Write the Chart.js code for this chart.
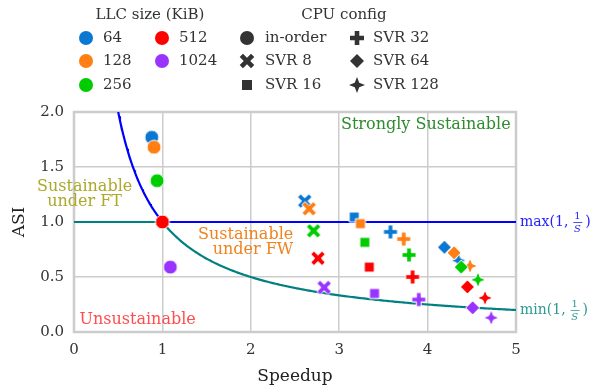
<!DOCTYPE html>
<html lang="en">
<head>
<meta charset="UTF-8">
<title>ASI vs Speedup</title>
<script src="https://cdn.jsdelivr.net/npm/chart.js"></script>
<style>
  body { margin: 0; background: #fff; }
  #wrap { width: 596px; height: 390px; }
</style>
</head>
<body>
<div id="wrap"><canvas id="asiChart" width="596" height="390"></canvas></div>
<script>
// LLC sizes (KiB) and CPU configs
const llcSizes = ['64', '128', '256', '512', '1024'];
const cpuConfigs = ['in-order', 'SVR 8', 'SVR 16', 'SVR 32', 'SVR 64', 'SVR 128'];

// speedup / ASI per CPU config, one value per LLC size (64 .. 1024)
const speedupInOrder = [0.88, 0.905, 0.94, 1.00, 1.09];
const asiInOrder     = [1.77, 1.68, 1.375, 1.00, 0.59];
const speedupSvr8    = [2.61, 2.66, 2.71, 2.76, 2.83];
const asiSvr8        = [1.19, 1.12, 0.92, 0.67, 0.405];
const speedupSvr16   = [3.17, 3.24, 3.29, 3.34, 3.40];
const asiSvr16       = [1.045, 0.985, 0.815, 0.59, 0.35];
const speedupSvr32   = [3.58, 3.73, 3.79, 3.83, 3.90];
const asiSvr32       = [0.91, 0.845, 0.70, 0.50, 0.295];
const speedupSvr64   = [4.19, 4.30, 4.38, 4.45, 4.51];
const asiSvr64       = [0.77, 0.72, 0.59, 0.41, 0.22];
const speedupSvr128  = [4.35, 4.48, 4.57, 4.65, 4.72];
const asiSvr128      = [0.65, 0.60, 0.475, 0.31, 0.13];

const xTicks = [0, 1, 2, 3, 4, 5];
const yTicks = [0.0, 0.5, 1.0, 1.5, 2.0];

const llcColors = ['#0a78d2', '#ff7f14', '#00cc00', '#ff0000', '#9933ff'];
const cpuShapes = ['circle', 'x', 'square', 'plus', 'diamond', 'star'];
const FONT = '"DejaVu Serif", serif';

// draw a marker shape centered on (0,0)
function shapePath(ctx, shape) {
  ctx.beginPath();
  if (shape === 'circle') {
    ctx.arc(0, 0, 7, 0, Math.PI * 2);
  } else if (shape === 'square') {
    ctx.rect(-5, -5, 10, 10);
  } else if (shape === 'diamond') {
    ctx.moveTo(0, -7); ctx.lineTo(7, 0); ctx.lineTo(0, 7); ctx.lineTo(-7, 0);
  } else if (shape === 'plus' || shape === 'x') {
    const e = shape === 'x' ? 8 : 7, t = 2.3;
    const pts = [[-t,-e],[t,-e],[t,-t],[e,-t],[e,t],[t,t],[t,e],[-t,e],[-t,t],[-e,t],[-e,-t],[-t,-t]];
    const a = shape === 'x' ? Math.PI / 4 : 0;
    pts.forEach((p, i) => {
      const x = p[0] * Math.cos(a) - p[1] * Math.sin(a);
      const y = p[0] * Math.sin(a) + p[1] * Math.cos(a);
      i ? ctx.lineTo(x, y) : ctx.moveTo(x, y);
    });
  } else if (shape === 'star') {
    for (let k = 0; k < 8; k++) {
      const ang = k * Math.PI / 4 - Math.PI / 2;
      const r = k % 2 ? 3.2 : 8;
      const x = r * Math.cos(ang), y = r * Math.sin(ang);
      k ? ctx.lineTo(x, y) : ctx.moveTo(x, y);
    }
  }
  ctx.closePath();
}

function drawMarker(ctx, shape, color, x, y, edge) {
  ctx.save();
  ctx.translate(x, y);
  shapePath(ctx, shape);
  ctx.fillStyle = color;
  ctx.fill();
  if (edge) {
    ctx.strokeStyle = '#ffffff';
    ctx.lineWidth = 1;
    ctx.stroke();
  }
  ctx.restore();
}

function makeMarker(shape, color) {
  const c = document.createElement('canvas');
  c.width = 22; c.height = 22;
  drawMarker(c.getContext('2d'), shape, color, 11, 11, true);
  return c;
}

const speedups = [speedupInOrder, speedupSvr8, speedupSvr16, speedupSvr32, speedupSvr64, speedupSvr128];
const asis = [asiInOrder, asiSvr8, asiSvr16, asiSvr32, asiSvr64, asiSvr128];

const pointSets = cpuConfigs.map((name, i) => ({
  type: 'scatter',
  label: name,
  data: speedups[i].map((s, j) => ({ x: s, y: asis[i][j] })),
  pointStyle: llcColors.map(col => makeMarker(cpuShapes[i], col)),
  pointRadius: 7,
  order: 1
}));

// reference curves max(1, 1/S) and min(1, 1/S)
const maxCurve = [];
for (let s = 0.5; s <= 1.0001; s += 0.01) maxCurve.push({ x: s, y: 1 / s });
maxCurve.push({ x: 5, y: 1 });
const minCurve = [{ x: 0, y: 1 }];
for (let s = 1; s <= 5.0001; s += 0.02) minCurve.push({ x: s, y: 1 / s });

const curveSets = [
  { type: 'scatter', data: maxCurve, showLine: true, borderColor: '#0000ff', borderWidth: 2.2, pointRadius: 0, order: 5 },
  { type: 'scatter', data: minCurve, showLine: true, borderColor: '#008080', borderWidth: 2.2, pointRadius: 0, order: 6 }
];

// frame round the plot area, region labels
const framePlugin = {
  id: 'frame',
  beforeDatasetsDraw(chart) {
    const { ctx, chartArea: a } = chart;
    ctx.save();
    ctx.strokeStyle = '#cccccc';
    ctx.lineWidth = 2.5;
    ctx.strokeRect(a.left, a.top, a.right - a.left, a.bottom - a.top);

    const xs = chart.scales.x, ys = chart.scales.y;
    ctx.font = '16px ' + FONT;
    ctx.textAlign = 'center';
    ctx.textBaseline = 'middle';
    ctx.fillStyle = '#2e8b2e';
    ctx.fillText('Strongly Sustainable', xs.getPixelForValue(3.98), ys.getPixelForValue(1.88));
    ctx.fillStyle = '#aca92c';
    ctx.fillText('Sustainable', xs.getPixelForValue(0.12), ys.getPixelForValue(1.32));
    ctx.fillText('under FT', xs.getPixelForValue(0.12), ys.getPixelForValue(1.185));
    ctx.fillStyle = '#f0821e';
    ctx.textAlign = 'right';
    ctx.fillText('Sustainable', xs.getPixelForValue(2.48), ys.getPixelForValue(0.885));
    ctx.fillText('under FW', xs.getPixelForValue(2.48), ys.getPixelForValue(0.75));
    ctx.textAlign = 'center';
    ctx.fillStyle = '#ff4d4d';
    ctx.fillText('Unsustainable', xs.getPixelForValue(0.72), ys.getPixelForValue(0.11));
    ctx.restore();
  },
  afterDatasetsDraw(chart) {
    const { ctx, chartArea: a } = chart;
    const ys = chart.scales.y;
    const frac = (fn, yv, color) => {
      let x = a.right + 4;
      const y = ys.getPixelForValue(yv);
      ctx.fillStyle = color;
      ctx.strokeStyle = color;
      ctx.textBaseline = 'middle';
      ctx.textAlign = 'left';
      ctx.font = '14px ' + FONT;
      const t = fn + '(1,';
      ctx.fillText(t, x, y);
      x += ctx.measureText(t).width + 5;
      ctx.textAlign = 'center';
      ctx.font = '10px ' + FONT;
      ctx.fillText('1', x + 4, y - 6);
      ctx.font = 'italic 10px ' + FONT;
      ctx.fillText('S', x + 4, y + 7);
      ctx.lineWidth = 0.8;
      ctx.beginPath();
      ctx.moveTo(x, y + 0.5); ctx.lineTo(x + 9, y + 0.5);
      ctx.stroke();
      ctx.textAlign = 'left';
      ctx.font = '14px ' + FONT;
      ctx.fillText(')', x + 12, y);
    };
    ctx.save();
    frac('max', 1.0, '#2222ff');
    frac('min', 0.2, '#2a9a92');
    ctx.restore();
  }
};

// two-part legend at the top
const legendPlugin = {
  id: 'twoLegends',
  afterDraw(chart) {
    const ctx = chart.ctx;
    ctx.save();
    ctx.fillStyle = '#333';
    ctx.textBaseline = 'middle';
    ctx.textAlign = 'center';
    ctx.font = '15px ' + FONT;
    ctx.fillText('LLC size (KiB)', 150, 15);
    ctx.fillText('CPU config', 344, 15);
    const rows = [38, 61, 85];
    ctx.textAlign = 'left';
    llcSizes.forEach((lab, i) => {
      const col = Math.floor(i / 3), row = i % 3;
      drawMarker(ctx, 'circle', llcColors[i], [86, 162][col], rows[row], false);
      ctx.fillStyle = '#333';
      ctx.fillText(lab, [103, 179][col], rows[row]);
    });
    cpuConfigs.forEach((lab, i) => {
      const col = Math.floor(i / 3), row = i % 3;
      drawMarker(ctx, cpuShapes[i], '#333', [247, 357][col], rows[row], false);
      ctx.fillStyle = '#333';
      ctx.fillText(lab, [265, 373][col], rows[row]);
    });
    ctx.restore();
  }
};

new Chart(document.getElementById('asiChart'), {
  type: 'scatter',
  data: { datasets: [...pointSets, ...curveSets] },
  options: {
    responsive: false,
    animation: false,
    events: [],
    layout: { padding: { top: 112, right: 80, left: 0, bottom: 0 } },
    plugins: { legend: { display: false }, tooltip: { enabled: false } },
    scales: {
      x: {
        min: 0, max: 5,
        afterFit: s => { s.height = 58; },
        afterBuildTicks: s => { s.ticks = xTicks.map(v => ({ value: v })); },
        ticks: { color: '#333', font: { family: FONT, size: 15 }, padding: 9 },
        grid: { color: '#cccccc', lineWidth: 1.5, drawTicks: false },
        border: { display: false },
        title: { display: true, text: 'Speedup', color: '#222', font: { family: FONT, size: 17 }, padding: { top: 0, bottom: 3 } }
      },
      y: {
        min: 0, max: 2,
        afterFit: s => { s.width = 74; },
        afterBuildTicks: s => { s.ticks = yTicks.map(v => ({ value: v })); },
        ticks: { color: '#333', font: { family: FONT, size: 15 }, padding: 10, callback: v => v.toFixed(1) },
        grid: { color: '#cccccc', lineWidth: 1.5, drawTicks: false },
        border: { display: false },
        title: { display: true, text: 'ASI', color: '#222', font: { family: FONT, size: 17 }, padding: { top: 9, bottom: 0 } }
      }
    }
  },
  plugins: [framePlugin, legendPlugin]
});
</script>
</body>
</html>
